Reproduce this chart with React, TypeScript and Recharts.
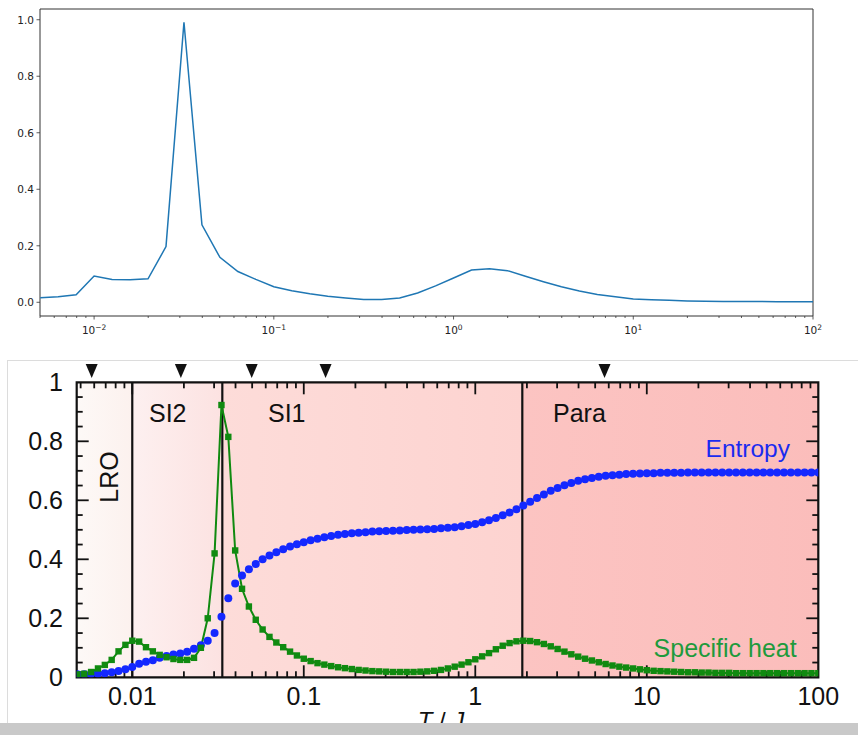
import React from 'react';
import {
  LineChart,
  ComposedChart,
  Line,
  XAxis,
  YAxis,
  ReferenceArea,
  ReferenceLine,
  ReferenceDot,
} from 'recharts';

// ---- top panel: log-x line ----
const TOP_LOG_T = [
  -2.3, -2.2, -2.1, -2.0, -1.9, -1.8, -1.7, -1.6, -1.5, -1.4, -1.3, -1.2, -1.1, -1.0, -0.9,
  -0.8, -0.7, -0.6, -0.5, -0.4, -0.3, -0.2, -0.1, 0.0, 0.1, 0.2, 0.3, 0.4, 0.5, 0.6, 0.7,
  0.8, 0.9, 1.0, 1.1, 1.2, 1.3, 1.4, 1.5, 1.6, 1.7, 1.8, 1.9, 2.0,
];
const TOP_VALUES = [
  0.0165, 0.02, 0.027, 0.093, 0.081, 0.08, 0.083, 0.197, 0.991, 0.274, 0.159, 0.109, 0.081, 0.055, 0.041,
  0.03, 0.021, 0.015, 0.01, 0.01, 0.015, 0.033, 0.058, 0.086, 0.114, 0.119, 0.112, 0.092, 0.073, 0.055, 0.04,
  0.028, 0.02, 0.012, 0.009, 0.007, 0.005, 0.004, 0.003, 0.003, 0.003, 0.002, 0.002, 0.002,
];
const TOP_X_MAJOR = [0.01, 0.1, 1, 10, 100];
const TOP_X_EXP = ['\u22122', '\u22121', '0', '1', '2'];
const TOP_X_MINOR = [
  0.005, 0.006, 0.007, 0.008, 0.009, 0.02, 0.03, 0.04, 0.05, 0.06, 0.07, 0.08, 0.09,
  0.2, 0.3, 0.4, 0.5, 0.6, 0.7, 0.8, 0.9, 2, 3, 4, 5, 6, 7, 8, 9, 20, 30, 40, 50, 60, 70, 80, 90,
];
const TOP_Y_TICKS = [0, 0.2, 0.4, 0.6, 0.8, 1.0];

// ---- bottom panel: entropy / specific heat ----
const BOT_LOG_T = [
  -2.32, -2.28, -2.24, -2.2, -2.16, -2.12, -2.08, -2.04, -2, -1.96, -1.92, -1.88, -1.84, -1.8, -1.76,
  -1.72, -1.68, -1.64, -1.6, -1.56, -1.52, -1.48, -1.44, -1.4, -1.36, -1.32, -1.28, -1.24, -1.2, -1.16,
  -1.12, -1.08, -1.04, -1, -0.96, -0.92, -0.88, -0.84, -0.8, -0.76, -0.72, -0.68, -0.64, -0.6, -0.56,
  -0.52, -0.48, -0.44, -0.4, -0.36, -0.32, -0.28, -0.24, -0.2, -0.16, -0.12, -0.08, -0.04, 0, 0.04,
  0.08, 0.12, 0.16, 0.2, 0.24, 0.28, 0.32, 0.36, 0.4, 0.44, 0.48, 0.52, 0.56, 0.6, 0.64, 0.68, 0.72,
  0.76, 0.8, 0.84, 0.88, 0.92, 0.96, 1, 1.04, 1.08, 1.12, 1.16, 1.2, 1.24, 1.28, 1.32, 1.36, 1.4, 1.44,
  1.48, 1.52, 1.56, 1.6, 1.64, 1.68, 1.72, 1.76, 1.8, 1.84, 1.88, 1.92, 1.96, 2,
];
const ENTROPY = [
  0.01, 0.01, 0.011, 0.012, 0.014, 0.017, 0.021, 0.027, 0.035, 0.046,
  0.053, 0.058, 0.066, 0.072, 0.077, 0.081, 0.087, 0.097, 0.109, 0.124,
  0.15, 0.205, 0.268, 0.318, 0.345, 0.366, 0.384, 0.4, 0.413, 0.424,
  0.434, 0.443, 0.451, 0.458, 0.465, 0.47, 0.475, 0.479, 0.483, 0.486,
  0.488, 0.49, 0.492, 0.494, 0.495, 0.496, 0.497, 0.498, 0.499, 0.5,
  0.501, 0.502, 0.503, 0.505, 0.507, 0.509, 0.512, 0.516, 0.52, 0.526,
  0.532, 0.54, 0.549, 0.559, 0.57, 0.582, 0.595, 0.608, 0.62, 0.632,
  0.642, 0.651, 0.659, 0.666, 0.671, 0.676, 0.68, 0.683, 0.685, 0.687,
  0.689, 0.69, 0.691, 0.692, 0.692, 0.693, 0.693, 0.693, 0.693, 0.694,
  0.694, 0.694, 0.694, 0.694, 0.694, 0.694, 0.694, 0.694, 0.694, 0.694,
  0.694, 0.694, 0.694, 0.694, 0.694, 0.694, 0.694, 0.694, 0.694,
];
const SPECIFIC_HEAT = [
  0.01, 0.012, 0.018, 0.03, 0.042, 0.059, 0.088, 0.11, 0.124, 0.121,
  0.102, 0.088, 0.076, 0.068, 0.062, 0.059, 0.059, 0.066, 0.1, 0.2,
  0.42, 0.923, 0.815, 0.43, 0.3, 0.24, 0.195, 0.162, 0.137, 0.118,
  0.102, 0.087, 0.074, 0.063, 0.055, 0.048, 0.043, 0.038, 0.034, 0.031,
  0.028, 0.025, 0.023, 0.021, 0.02, 0.019, 0.018, 0.018, 0.018, 0.018,
  0.019, 0.02, 0.022, 0.025, 0.03, 0.036, 0.043, 0.051, 0.061, 0.071,
  0.082, 0.095, 0.107, 0.116, 0.122, 0.124, 0.123, 0.119, 0.113, 0.105,
  0.096, 0.087, 0.078, 0.07, 0.063, 0.057, 0.051, 0.045, 0.04, 0.036,
  0.033, 0.03, 0.027, 0.024, 0.022, 0.021, 0.02, 0.019, 0.018, 0.017,
  0.017, 0.016, 0.016, 0.015, 0.015, 0.015, 0.014, 0.014, 0.014, 0.014,
  0.014, 0.014, 0.014, 0.014, 0.014, 0.014, 0.014, 0.014, 0.014,
];
const ARROW_T = [0.0058, 0.0192, 0.0497, 0.134, 5.67];
const BOUNDARY_T = [0.01, 0.0335, 1.88];
const BOT_X_MAJOR = [0.01, 0.1, 1, 10, 100];
const BOT_X_MINOR = [
  0.005, 0.006, 0.007, 0.008, 0.009, 0.02, 0.03, 0.04, 0.05, 0.06, 0.07, 0.08, 0.09,
  0.2, 0.3, 0.4, 0.5, 0.6, 0.7, 0.8, 0.9, 2, 3, 4, 5, 6, 7, 8, 9, 20, 30, 40, 50, 60, 70, 80, 90,
];
const BOT_Y_MAJOR = [0, 0.2, 0.4, 0.6, 0.8, 1];
const BOT_Y_MINOR = [0.05, 0.1, 0.15, 0.25, 0.3, 0.35, 0.45, 0.5, 0.55, 0.65, 0.7, 0.75, 0.85, 0.9, 0.95];

const topData = TOP_LOG_T.map((lt, i) => ({ T: Math.pow(10, lt), v: TOP_VALUES[i] }));
const botData = BOT_LOG_T.map((lt, i) => ({ T: Math.pow(10, lt), S: ENTROPY[i], C: SPECIFIC_HEAT[i] }));

const BOT_XMIN = Math.pow(10, -2.324);
const BOT_XMAX = 100;

// layout (pixels inside each svg)
const TOP_PB = 316;
const TOP_PL = 40;
const B_PL = 76.7;
const B_PR = 818.3;
const B_PT = 32.3;
const B_PB = 327.3;
const PX_PER_DECADE = (B_PR - B_PL) / Math.log10(BOT_XMAX / BOT_XMIN);
const PX_PER_UNIT = B_PB - B_PT;

// inward frame ticks as short segments in data space (major 12px, minor 6px)
const tickLenY = (major: boolean) => (major ? 12 : 6) / PX_PER_UNIT;
const tickFacX = (major: boolean) => Math.pow(10, (major ? 12 : 6) / PX_PER_DECADE);
const frameSegments: any[] = [];
[...BOT_X_MAJOR.filter((t) => t < BOT_XMAX), ...BOT_X_MINOR].forEach((t) => {
  const major = BOT_X_MAJOR.includes(t);
  frameSegments.push([{ x: t, y: 0 }, { x: t, y: tickLenY(major) }]);
  frameSegments.push([{ x: t, y: 1 }, { x: t, y: 1 - tickLenY(major) }]);
});
[...BOT_Y_MAJOR.filter((v) => v > 0 && v < 1), ...BOT_Y_MINOR].forEach((v) => {
  const major = BOT_Y_MAJOR.includes(v);
  frameSegments.push([{ x: BOT_XMIN, y: v }, { x: BOT_XMIN * tickFacX(major), y: v }]);
  frameSegments.push([{ x: BOT_XMAX, y: v }, { x: BOT_XMAX / tickFacX(major), y: v }]);
});

const MPL = 'DejaVu Sans, sans-serif';
const HELV = 'Liberation Sans, Arial, sans-serif';

const TopXTick = (props: any) => {
  const { x, payload } = props;
  const idx = TOP_X_MAJOR.indexOf(payload.value);
  const major = idx >= 0;
  return (
    <g>
      <line x1={x} x2={x} y1={TOP_PB} y2={TOP_PB + (major ? 3.5 : 2)} stroke="#333" strokeWidth={0.8} />
      {major && (
        <text x={x} y={TOP_PB + 18} textAnchor="middle" fontSize={10.5} fontFamily={MPL} fill="#222">
          <tspan>10</tspan>
          <tspan dy={-4.5} fontSize={7.5}>{TOP_X_EXP[idx]}</tspan>
        </text>
      )}
    </g>
  );
};

const TopYTick = (props: any) => {
  const { y, payload } = props;
  return (
    <g>
      <line x1={TOP_PL - 3.5} x2={TOP_PL} y1={y} y2={y} stroke="#333" strokeWidth={0.8} />
      <text x={TOP_PL - 6} y={y + 3.8} textAnchor="end" fontSize={10.5} fontFamily={MPL} fill="#222">
        {payload.value.toFixed(1)}
      </text>
    </g>
  );
};

const BotXTick = (props: any) => {
  const { x, payload } = props;
  return (
    <text x={x} y={B_PB + 27.7} textAnchor="middle" fontSize={25} fontFamily={HELV} fill="#111">
      {String(payload.value)}
    </text>
  );
};

const BotYTick = (props: any) => {
  const { y, payload } = props;
  return (
    <text x={63} y={y + 9} textAnchor="end" fontSize={25} fontFamily={HELV} fill="#111">
      {String(payload.value)}
    </text>
  );
};

const SquareDot = (p: any) => (
  <rect key={`sq-${p.index}`} x={p.cx - 3.2} y={p.cy - 3.2} width={6.4} height={6.4} fill="#108a10" />
);

const Arrow = (p: any) => (
  <polygon points={`${p.cx - 6},${p.cy - 18.3} ${p.cx + 6},${p.cy - 18.3} ${p.cx},${p.cy - 4.3}`} fill="#111" />
);

const allTopX = [...TOP_X_MINOR, ...TOP_X_MAJOR].sort((a, b) => a - b);

export default function App() {
  return (
    <div style={{ position: 'absolute', left: 0, top: 0, width: 858, height: 735, background: '#fff', overflow: 'hidden' }}>
      <svg width={0} height={0} style={{ position: 'absolute' }}>
        <defs>
          <linearGradient id="gLRO" x1="0" x2="1" y1="0" y2="0">
            <stop offset="0%" stopColor="#fdf9f7" />
            <stop offset="100%" stopColor="#fcf1ee" />
          </linearGradient>
          <linearGradient id="gSI2" x1="0" x2="1" y1="0" y2="0">
            <stop offset="0%" stopColor="#fdf0f0" />
            <stop offset="100%" stopColor="#fce2e1" />
          </linearGradient>
          <linearGradient id="gSI1" x1="0" x2="1" y1="0" y2="0">
            <stop offset="0%" stopColor="#fddcd9" />
            <stop offset="100%" stopColor="#fdd3d0" />
          </linearGradient>
          <linearGradient id="gPara" x1="0" x2="1" y1="0" y2="0">
            <stop offset="0%" stopColor="#fcc4c2" />
            <stop offset="100%" stopColor="#fbbdbb" />
          </linearGradient>
        </defs>
      </svg>

      {/* top panel */}
      <div style={{ position: 'absolute', left: 0, top: 0 }}>
        <LineChart width={858} height={345} data={topData} margin={{ top: 9, right: 45, left: 0, bottom: 0 }}>
          <XAxis
            dataKey="T"
            type="number"
            scale="log"
            domain={[0.005, 100]}
            allowDataOverflow
            ticks={allTopX}
            interval={0}
            height={29}
            axisLine={false}
            tickLine={false}
            tick={<TopXTick />}
          />
          <YAxis
            type="number"
            domain={[-0.0485, 1.038]}
            allowDataOverflow
            ticks={TOP_Y_TICKS}
            interval={0}
            width={40}
            axisLine={false}
            tickLine={false}
            tick={<TopYTick />}
          />
          <ReferenceArea x1={0.005} x2={100} y1={-0.0485} y2={1.038} fill="none" stroke="#333" strokeWidth={1} />
          <Line dataKey="v" stroke="#1f77b4" strokeWidth={1.5} dot={false} isAnimationActive={false} />
        </LineChart>
      </div>

      {/* bottom panel frame */}
      <div style={{ position: 'absolute', left: 7, top: 360, width: 851, height: 363, borderTop: '1px solid #dcdcdc', borderLeft: '1px solid #dcdcdc' }} />

      <div style={{ position: 'absolute', left: 0, top: 350 }}>
        <ComposedChart width={858} height={385} data={botData} margin={{ top: B_PT, right: 858 - B_PR, left: 0, bottom: 0 }}>
          <XAxis
            dataKey="T"
            type="number"
            scale="log"
            domain={[BOT_XMIN, BOT_XMAX]}
            allowDataOverflow
            ticks={BOT_X_MAJOR}
            interval={0}
            height={385 - B_PB}
            axisLine={false}
            tickLine={false}
            tick={<BotXTick />}
          />
          <YAxis
            type="number"
            domain={[0, 1]}
            allowDataOverflow
            ticks={BOT_Y_MAJOR}
            interval={0}
            width={B_PL}
            axisLine={false}
            tickLine={false}
            tick={<BotYTick />}
          />
          <ReferenceArea x1={BOT_XMIN} x2={BOUNDARY_T[0]} y1={0} y2={1} fill="url(#gLRO)" fillOpacity={1} stroke="none" />
          <ReferenceArea x1={BOUNDARY_T[0]} x2={BOUNDARY_T[1]} y1={0} y2={1} fill="url(#gSI2)" fillOpacity={1} stroke="none" />
          <ReferenceArea x1={BOUNDARY_T[1]} x2={BOUNDARY_T[2]} y1={0} y2={1} fill="url(#gSI1)" fillOpacity={1} stroke="none" />
          <ReferenceArea x1={BOUNDARY_T[2]} x2={BOT_XMAX} y1={0} y2={1} fill="url(#gPara)" fillOpacity={1} stroke="none" />
          {BOUNDARY_T.map((t) => (
            <ReferenceLine key={t} x={t} stroke="#111" strokeWidth={2.2} />
          ))}
          {frameSegments.map((seg, i) => (
            <ReferenceLine key={`tk-${i}`} segment={seg} stroke="#111" strokeWidth={1.8} />
          ))}
          <Line
            dataKey="S"
            stroke="none"
            dot={{ r: 4, fill: '#1428ff', stroke: 'none' }}
            isAnimationActive={false}
          />
          <Line
            dataKey="C"
            stroke="#108a10"
            strokeWidth={2}
            dot={SquareDot}
            isAnimationActive={false}
          />
          <ReferenceArea x1={BOT_XMIN} x2={BOT_XMAX} y1={0} y2={1} fill="none" stroke="#111" strokeWidth={2.2} />
          {ARROW_T.map((t) => (
            <ReferenceDot key={`ar-${t}`} x={t} y={1} ifOverflow="visible" shape={Arrow} />
          ))}
        </ComposedChart>
      </div>

      {/* annotations */}
      <svg width={858} height={735} style={{ position: 'absolute', left: 0, top: 0, pointerEvents: 'none' }}>
        <g fontFamily={HELV} fontSize={25} fill="#111">
          <text transform="translate(118,477) rotate(-90)" textAnchor="middle">LRO</text>
          <text x={149} y={421.5}>SI2</text>
          <text x={268} y={422}>SI1</text>
          <text x={553} y={421.5}>Para</text>
        </g>
        <text x={790} y={456.5} textAnchor="end" fontFamily={HELV} fontSize={24.5} fill="#1a2bf0">Entropy</text>
        <text x={796.7} y={656.7} textAnchor="end" fontFamily={HELV} fontSize={25} fill="#1f9a3c">Specific heat</text>
        <text x={441} y={729} textAnchor="middle" fontFamily={HELV} fontSize={24} fill="#111">
          <tspan fontStyle="italic">T</tspan> / <tspan fontStyle="italic">J</tspan>
        </text>
        <rect x={0} y={723} width={858} height={12} fill="#c9c9c9" />
      </svg>
    </div>
  );
}
